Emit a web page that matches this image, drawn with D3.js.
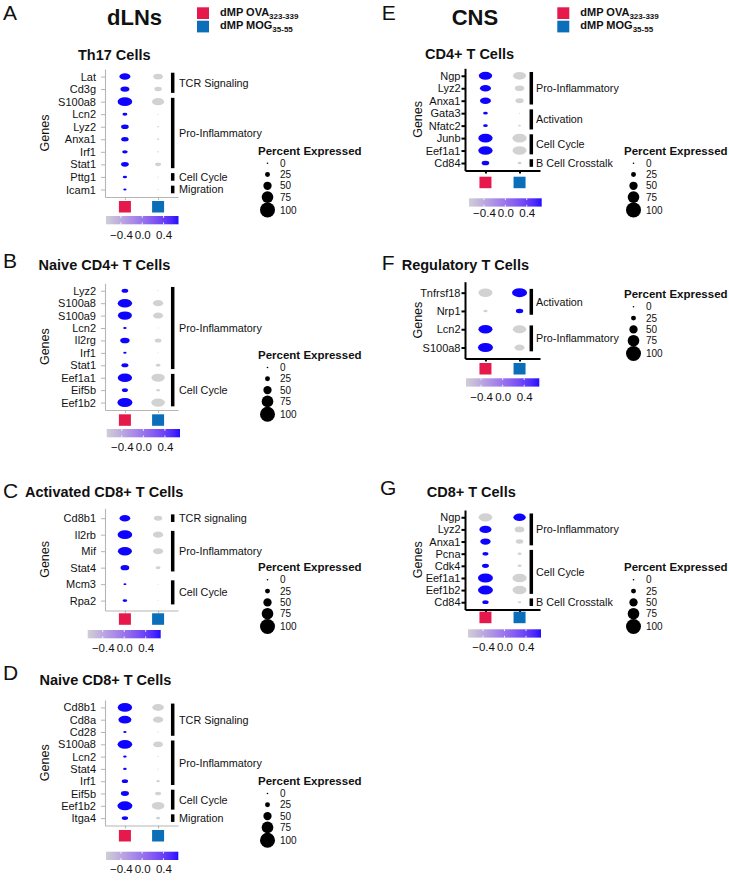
<!DOCTYPE html>
<html><head><meta charset="utf-8">
<script src="https://cdn.jsdelivr.net/npm/d3@7"></script>
<style>
body{margin:0;background:#fff}
svg{display:block}
text{font-family:"Liberation Sans",Arial,Helvetica,sans-serif;fill:#111}
</style>
</head><body>
<svg id="chart" width="729" height="881"></svg>
<script>
// ---------------- DATA ----------------
const groupNames = ["dMP OVA", "dMP MOG"];
const groupSubs = ["323-339", "35-55"];
const groupColors = ["#E5194C", "#0B6EB9"];
const sizeBreaks = [0, 25, 50, 75, 100];
const colorTicks = [-0.4, 0.0, 0.4];

// A: dLNs Th17
const genesA = ["Lat","Cd3g","S100a8","Lcn2","Lyz2","Anxa1","Irf1","Stat1","Pttg1","Icam1"];
const pctOvaA = [70,55,97,25,45,43,30,45,20,13];
const pctMogA = [60,43,78,0,3,8,3,33,0,0];
const expOvaA = [0.71,0.71,0.71,0.71,0.71,0.71,0.71,0.71,0.71,0.71];
const expMogA = [-0.71,-0.71,-0.71,-0.71,-0.71,-0.71,-0.71,-0.71,-0.71,-0.71];
const modulesA = [["TCR Signaling","Lat","Cd3g"],["Pro-Inflammatory","S100a8","Stat1"],["Cell Cycle","Pttg1","Pttg1"],["Migration","Icam1","Icam1"]];

// B: dLNs Naive CD4+
const genesB = ["Lyz2","S100a8","S100a9","Lcn2","Il2rg","Irf1","Stat1","Eef1a1","Eif5b","Eef1b2"];
const pctOvaB = [38,95,93,15,58,13,40,95,33,100];
const pctMogB = [0,65,63,0,38,0,25,88,18,90];
const expOvaB = [0.71,0.71,0.71,0.71,0.71,0.71,0.71,0.71,0.71,0.71];
const expMogB = [-0.71,-0.71,-0.71,-0.71,-0.71,-0.71,-0.71,-0.71,-0.71,-0.71];
const modulesB = [["Pro-Inflammatory","Lyz2","Stat1"],["Cell Cycle","Eef1a1","Eef1b2"]];

// C: dLNs Activated CD8+
const genesC = ["Cd8b1","Il2rb","Mif","Stat4","Mcm3","Rpa2"];
const pctOvaC = [68,97,93,53,10,23];
const pctMogC = [50,65,63,25,0,0];
const expOvaC = [0.71,0.71,0.71,0.71,0.71,0.71];
const expMogC = [-0.71,-0.71,-0.71,-0.71,-0.71,-0.71];
const modulesC = [["TCR signaling","Cd8b1","Cd8b1"],["Pro-Inflammatory","Il2rb","Stat4"],["Cell Cycle","Mcm3","Rpa2"]];

// D: dLNs Naive CD8+
const genesD = ["Cd8b1","Cd8a","Cd28","S100a8","Lcn2","Stat4","Irf1","Eif5b","Eef1b2","Itga4"];
const pctOvaD = [95,85,13,97,15,15,35,48,100,35];
const pctMogD = [75,65,0,60,0,0,15,33,83,20];
const expOvaD = [0.71,0.71,0.71,0.71,0.71,0.71,0.71,0.71,0.71,0.71];
const expMogD = [-0.71,-0.71,-0.71,-0.71,-0.71,-0.71,-0.71,-0.71,-0.71,-0.71];
const modulesD = [["TCR Signaling","Cd8b1","Cd28"],["Pro-Inflammatory","S100a8","Irf1"],["Cell Cycle","Eif5b","Eef1b2"],["Migration","Itga4","Itga4"]];

// E: CNS CD4+
const genesE = ["Ngp","Lyz2","Anxa1","Gata3","Nfatc2","Junb","Eef1a1","Cd84"];
const pctOvaE = [88,70,70,23,23,95,95,45];
const pctMogE = [85,58,50,0,8,95,93,18];
const expOvaE = [0.71,0.71,0.71,0.71,0.71,0.71,0.71,0.71];
const expMogE = [-0.71,-0.71,-0.71,-0.71,-0.71,-0.71,-0.71,-0.71];
const modulesE = [["Pro-Inflammatory","Ngp","Anxa1"],["Activation","Gata3","Nfatc2"],["Cell Cycle","Junb","Eef1a1"],["B Cell Crosstalk","Cd84","Cd84"]];

// F: CNS Regulatory T
const genesF = ["Tnfrsf18","Nrp1","Lcn2","S100a8"];
const pctOvaF = [93,20,93,100];
const pctMogF = [100,43,88,63];
const expOvaF = [-0.71,-0.71,0.71,0.71];
const expMogF = [0.71,0.71,-0.71,-0.71];
const modulesF = [["Activation","Tnfrsf18","Nrp1"],["Pro-Inflammatory","Lcn2","S100a8"]];

// G: CNS CD8+
const genesG = ["Ngp","Lyz2","Anxa1","Pcna","Cdk4","Eef1a1","Eef1b2","Cd84"];
const pctOvaG = [90,78,65,33,40,100,100,35];
const pctMogG = [80,60,43,18,18,95,93,13];
const expOvaG = [-0.71,0.71,0.71,0.71,0.71,0.71,0.71,0.71];
const expMogG = [0.71,-0.71,-0.71,-0.71,-0.71,-0.71,-0.71,-0.71];
const modulesG = [["Pro-Inflammatory","Ngp","Anxa1"],["Cell Cycle","Pcna","Eef1b2"],["B Cell Crosstalk","Cd84","Cd84"]];

// ---------------- LAYOUT ----------------
const svg = d3.select("#chart");
const rScale = d3.scaleLinear().domain([0, 100]).range([0.8, 7.5]);
const colDomain = [-0.68, 0.68];
const colorScale = d3.scaleLinear().domain([-0.72, 0.72]).range(["lightgrey", "blue"]).interpolate(d3.interpolateLab);

// gradient
const defs = svg.append("defs");
const grad = defs.append("linearGradient").attr("id", "cbar").attr("x1", "0%").attr("x2", "100%");
d3.range(0, 1.0001, 0.1).forEach(t => {
  grad.append("stop").attr("offset", (t * 100) + "%")
    .attr("stop-color", colorScale(colDomain[0] + t * (colDomain[1] - colDomain[0])));
});

const panels = [
  {letter:"A", lx:3, ly:20, title:"Th17 Cells", tx:78, ty:60, dark:false,
   genes:genesA, pO:pctOvaA, pM:pctMogA, eO:expOvaA, eM:expMogA, mods:modulesA,
   x0:105, x1:178, y0:69, y1:197, brX:172.7, brL:179, gx:45,
   swY:201, bx0:106, bx1:178.5, by:216, tly:240, legX:258, legY:150.7},
  {letter:"B", lx:3, ly:268, title:"Naive CD4+ T Cells", tx:38.5, ty:270, dark:false,
   genes:genesB, pO:pctOvaB, pM:pctMogB, eO:expOvaB, eM:expMogB, mods:modulesB,
   x0:105, x1:178, y0:283.3, y1:410, brX:172.7, brL:179, gx:45,
   swY:414.3, bx0:106.7, bx1:180, by:429, tly:452, legX:258, legY:355},
  {letter:"C", lx:3, ly:498, title:"Activated CD8+ T Cells", tx:25, ty:497.3, dark:false,
   genes:genesC, pO:pctOvaC, pM:pctMogC, eO:expOvaC, eM:expMogC, mods:modulesC,
   x0:105, x1:178, y0:508.3, y1:610.5, brX:172.7, brL:179, gx:45,
   swY:613.3, bx0:87.7, bx1:160.7, by:630, tly:653, legX:258, legY:567.3},
  {letter:"D", lx:3, ly:680, title:"Naive CD8+ T Cells", tx:39.5, ty:685, dark:false,
   genes:genesD, pO:pctOvaD, pM:pctMogD, eO:expOvaD, eM:expMogD, mods:modulesD,
   x0:105, x1:178, y0:700, y1:825.5, brX:172.7, brL:179, gx:45,
   swY:830, bx0:106, bx1:178.3, by:851.7, tly:874, legX:258, legY:781},
  {letter:"E", lx:381.7, ly:20, title:"CD4+ T Cells", tx:425, ty:59.3, dark:true,
   genes:genesE, pO:pctOvaE, pM:pctMogE, eO:expOvaE, eM:expMogE, mods:modulesE,
   x0:465, x1:540, y0:68.3, y1:170.5, brX:531.3, brL:536, gx:418,
   swY:176.7, bx0:469, bx1:541.7, by:198.3, tly:218, legX:624, legY:150.7},
  {letter:"F", lx:381.7, ly:270, title:"Regulatory T Cells", tx:401.7, ty:270, dark:true,
   genes:genesF, pO:pctOvaF, pM:pctMogF, eO:expOvaF, eM:expMogF, mods:modulesF,
   x0:465, x1:540, y0:281.7, y1:358.5, brX:531.3, brL:536, gx:418,
   swY:363, bx0:466, bx1:539.3, by:378.3, tly:402, legX:624, legY:294.3},
  {letter:"G", lx:380, ly:495, title:"CD8+ T Cells", tx:426.7, ty:497.3, dark:true,
   genes:genesG, pO:pctOvaG, pM:pctMogG, eO:expOvaG, eM:expMogG, mods:modulesG,
   x0:465, x1:540, y0:510, y1:609.5, brX:531.3, brL:536, gx:418,
   swY:611.7, bx0:468, bx1:541, by:629.3, tly:652, legX:624, legY:567.3}
];

// ---------------- HEADERS ----------------
function header(hx, label, sqx) {
  svg.append("text").attr("x", hx).attr("y", 24.5).attr("font-size", 22).attr("font-weight", "bold").text(label);
  groupNames.forEach((g, i) => {
    svg.append("rect").attr("x", sqx).attr("y", 7.3 + i * 13.4).attr("width", 12).attr("height", 11.7).attr("fill", groupColors[i]);
    const t = svg.append("text").attr("x", sqx + 23).attr("y", 16 + i * 13.4).attr("font-size", 11).attr("font-weight", "bold");
    t.append("tspan").text(g);
    t.append("tspan").attr("font-size", 8).attr("dy", 2.5).text(groupSubs[i]);
  });
}
header(107, "dLNs", 197);
header(451.7, "CNS", 557.3);

// ---------------- PANELS ----------------
panels.forEach(p => {
  const g = svg.append("g");
  const axisCol = p.dark ? "#000" : "#b5b5b5";
  const axisW = p.dark ? 2 : 1.1;

  g.append("text").attr("x", p.lx).attr("y", p.ly).attr("font-size", 21).text(p.letter);
  g.append("text").attr("x", p.tx).attr("y", p.ty).attr("font-size", 14.5).attr("font-weight", "bold").text(p.title);

  const y = d3.scalePoint().domain(p.genes).range([p.y0, p.y1]).padding(0.6);
  const x = d3.scalePoint().domain(groupNames).range([p.x0, p.x1]).padding(0.6);

  // axes
  const ya = g.append("g").attr("transform", `translate(${p.x0},0)`)
    .call(d3.axisLeft(y).tickSize(p.dark ? 3.5 : 4).tickSizeOuter(0).tickPadding(p.dark ? 1 : 5));
  ya.select(".domain").attr("stroke", axisCol).attr("stroke-width", axisW);
  ya.selectAll(".tick line").attr("stroke", axisCol).attr("stroke-width", p.dark ? 2 : 1);
  ya.selectAll(".tick text").attr("font-size", 11).attr("fill", "#222")
    .attr("font-family", "'Liberation Sans',Arial,sans-serif");

  const xa = g.append("g").attr("transform", `translate(0,${p.y1})`)
    .call(d3.axisBottom(x).tickSize(3).tickSizeOuter(0).tickFormat(""));
  xa.select(".domain").attr("stroke", axisCol).attr("stroke-width", axisW);
  xa.selectAll(".tick line").attr("stroke", axisCol).attr("stroke-width", p.dark ? 2 : 1);

  // Genes label
  g.append("text").attr("transform", `translate(${p.gx},${(p.y0 + p.y1) / 2}) rotate(-90)`)
    .attr("text-anchor", "middle").attr("dominant-baseline", "central")
    .attr("font-size", 12.5).text("Genes");

  // dots
  const rows = [];
  p.genes.forEach((gn, i) => {
    rows.push({gene: gn, grp: groupNames[0], pct: p.pO[i], exp: p.eO[i]});
    rows.push({gene: gn, grp: groupNames[1], pct: p.pM[i], exp: p.eM[i]});
  });
  g.selectAll("ellipse.dot").data(rows).join("ellipse").attr("class", "dot")
    .attr("cx", d => x(d.grp)).attr("cy", d => y(d.gene))
    .attr("rx", d => rScale(d.pct)).attr("ry", d => rScale(d.pct) * 0.6)
    .attr("fill", d => colorScale(d.exp));

  // brackets
  p.mods.forEach(m => {
    const a = y(m[1]) - 3.8, b = y(m[2]) + 3.8;
    g.append("rect").attr("x", p.brX - 1.75).attr("y", a).attr("width", 3.5).attr("height", b - a).attr("fill", "#000");
    g.append("text").attr("x", p.brL).attr("y", (a + b) / 2).attr("dy", "0.36em")
      .attr("font-size", 10.8).text(m[0]);
  });

  // group swatches
  groupNames.forEach((gn, i) => {
    g.append("rect").attr("x", x(gn) - 6).attr("y", p.swY).attr("width", 12).attr("height", 11.5)
      .attr("fill", groupColors[i]);
  });

  // colour bar
  const cx = d3.scaleLinear().domain(colDomain).range([p.bx0, p.bx1]);
  g.append("rect").attr("x", p.bx0).attr("y", p.by).attr("width", p.bx1 - p.bx0).attr("height", 8.3)
    .attr("fill", "url(#cbar)");
  colorTicks.forEach(t => {
    g.append("line").attr("x1", cx(t)).attr("x2", cx(t)).attr("y1", p.by).attr("y2", p.by + 1.8)
      .attr("stroke", "#fff").attr("stroke-width", 0.9);
    g.append("line").attr("x1", cx(t)).attr("x2", cx(t)).attr("y1", p.by + 6.5).attr("y2", p.by + 8.3)
      .attr("stroke", "#fff").attr("stroke-width", 0.9);
  });
  const ca = g.append("g").attr("transform", `translate(0,${p.tly - 9})`)
    .call(d3.axisBottom(cx).tickValues(colorTicks).tickSize(0).tickPadding(0).tickFormat(d3.format(".1f")));
  ca.select(".domain").remove();
  ca.selectAll("text").attr("font-size", 11.5).attr("fill", "#222")
    .attr("font-family", "'Liberation Sans',Arial,sans-serif");

  // size legend
  g.append("text").attr("x", p.legX).attr("y", p.legY).attr("dy", "0.36em")
    .attr("font-size", 11.5).attr("font-weight", "bold").text("Percent Expressed");
  const offs = [12.5, 23.8, 35.1, 46.4, 59.2];
  sizeBreaks.forEach((v, i) => {
    const cy = p.legY + offs[i];
    g.append("circle").attr("cx", p.legX + 9.5).attr("cy", cy).attr("r", rScale(v)).attr("fill", "#000");
    g.append("text").attr("x", p.legX + 22).attr("y", cy).attr("dy", "0.36em").attr("font-size", 10).text(v);
  });
});
</script>
</body></html>
